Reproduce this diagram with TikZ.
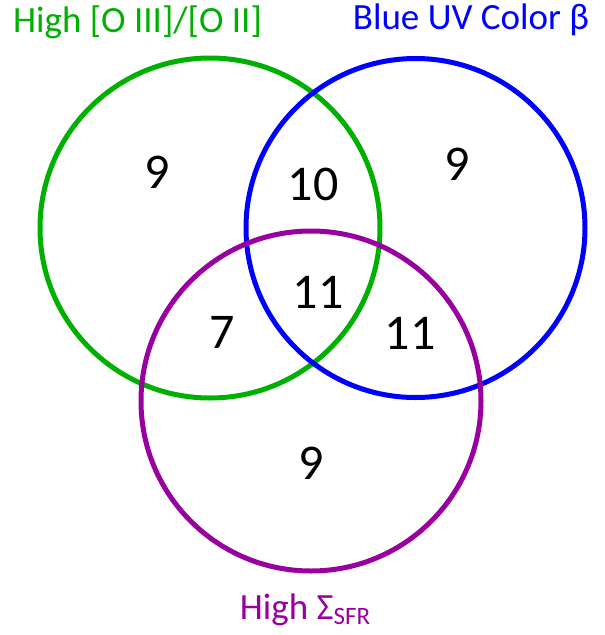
\documentclass[tikz,border=0pt]{standalone}
\usepackage{fontspec}
\setmainfont{Carlito}
\definecolor{vgreen}{RGB}{0,176,0}
\definecolor{vblue}{RGB}{0,0,255}
\definecolor{vpurple}{RGB}{153,0,160}
\begin{document}
\begin{tikzpicture}[x=1pt,y=-1pt,
  ring/.style={line width=5pt},
  count/.style={font=\fontsize{50}{56}\selectfont, inner sep=0pt},
  title/.style={font=\fontsize{37}{41}\selectfont, inner sep=0pt}]
\useasboundingbox (0,0) rectangle (605,635);
\draw[ring, vgreen] (210,228) circle[radius=170];
\draw[ring, vblue] (415.5,228) circle[radius=169.5];
\draw[ring, vpurple] (311,401) circle[radius=170];
\node[title, text=vgreen] (tg) at (137.5,22) {High [O III]/[O II]};
\node[title, text=vblue] (tb) at (471,20) {Blue UV Color β};
\node[title, text=vpurple] (tp) at (305,610) {High Σ\raisebox{-0.3ex}{\fontsize{25}{28}\selectfont SFR}};
\node[count] (a) at (157,172) {9};
\node[count] (ab) at (313,184) {10};
\node[count] (b) at (457,164) {9};
\node[count] (abc) at (318,292) {11};
\node[count] (ac) at (222,332) {7};
\node[count] (bc) at (410,333) {11};
\node[count] (c) at (311,463) {9};
\end{tikzpicture}
\end{document}
